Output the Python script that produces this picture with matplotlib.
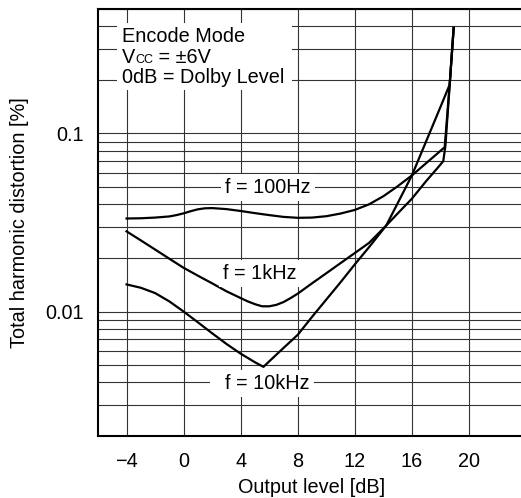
import matplotlib
matplotlib.use('Agg')
import matplotlib.pyplot as plt
from matplotlib import ticker
from matplotlib.transforms import offset_copy
from matplotlib.patches import Rectangle

plt.rcParams['font.family'] = ['Liberation Sans', 'DejaVu Sans']
plt.rcParams['font.size'] = 14.3

# output level [dB] / THD [%]
lvl_100 = [-4, -3, -2, -1, -0.5, 0, 0.5, 1, 1.5, 2, 3, 4, 5, 6, 7, 8, 9, 10, 11, 12, 13, 14, 15, 16,
           18.3, 18.65, 18.93]
thd_100 = [0.0333, 0.0334, 0.0337, 0.0342, 0.0348, 0.0356, 0.0366, 0.0375, 0.0380, 0.0381, 0.0376, 0.0367,
           0.0357, 0.0348, 0.0340, 0.0336, 0.0337, 0.0343, 0.0355, 0.0372, 0.0400, 0.0444, 0.0505, 0.0581,
           0.0837, 0.188, 0.392]

lvl_1k = [-4, -3, -2, -1, 0, 1, 2, 3, 4, 4.5, 5, 5.5, 6, 6.5, 7, 7.5, 8, 9, 10, 11, 12, 13, 14.2, 15, 16,
          17, 17.8, 18.2, 18.35, 18.65, 18.93]
thd_1k = [0.0282, 0.0251, 0.0223, 0.0198, 0.0176, 0.0159, 0.0144, 0.0130, 0.0119, 0.0114, 0.0110, 0.0107,
          0.0107, 0.0109, 0.0113, 0.0119, 0.0126, 0.0144, 0.0164, 0.0187, 0.0213, 0.0243, 0.0304, 0.0355,
          0.0430, 0.0540, 0.0640, 0.0699, 0.0850, 0.188, 0.392]

lvl_10k = [-4, -3, -2, -1, 0, 1, 2, 3, 4, 5, 5.6, 6, 7, 8, 9, 10, 11, 12, 13, 14.2, 15, 16, 17, 18, 18.65, 18.93]
thd_10k = [0.0142, 0.0136, 0.0127, 0.01140, 0.0100, 0.0087, 0.00755, 0.00658, 0.0058, 0.00519, 0.00489,
           0.00525, 0.00624, 0.0074, 0.00933, 0.01167, 0.0146, 0.0184, 0.0230, 0.0304, 0.0405, 0.0581,
           0.0903, 0.1406, 0.188, 0.392]

x_ticks = [-4, 0, 4, 8, 12, 16, 20]
y_ticks = [0.01, 0.1]
y_tick_labels = ['0.01', '0.1']

fig = plt.figure(figsize=(5.21, 4.98), dpi=100)
ax = fig.add_axes([98 / 521, 1 - 436 / 498, 428 / 521, 427 / 498])

ax.set_yscale('log')
ax.set_xlim(-6, 24)
ax.set_ylim(0.002, 0.5)

ax.xaxis.set_major_locator(ticker.FixedLocator(x_ticks))
ax.yaxis.set_major_locator(ticker.FixedLocator(y_ticks))
ax.yaxis.set_major_formatter(ticker.FixedFormatter(y_tick_labels))
ax.yaxis.set_minor_locator(ticker.LogLocator(base=10, subs=range(2, 10)))
ax.yaxis.set_minor_formatter(ticker.NullFormatter())
ax.tick_params(which='both', length=0)
ax.tick_params(axis='x', pad=11.5)
ax.tick_params(axis='y', pad=10.5)

ax.grid(True, axis='y', which='both', color='#333333', lw=0.8)
ax.grid(True, axis='x', which='major', color='#333333', lw=0.8)
for s in ax.spines.values():
    s.set_linewidth(1.5)

for lvl, thd in [(lvl_100, thd_100), (lvl_1k, thd_1k), (lvl_10k, thd_10k)]:
    ax.plot(lvl, thd, color='black', lw=1.6, solid_joinstyle='round', zorder=3)

box = dict(facecolor='white', edgecolor='none', pad=3)
ax.text(2.9, 0.0462, 'f = 100Hz', va='baseline', ha='left', bbox=box, zorder=4)
ax.text(2.76, 0.0152, 'f = 1kHz', va='baseline', ha='left', bbox=box, zorder=4)
ax.text(2.13, 0.00366, '  f = 10kHz', va='baseline', ha='left', bbox=box, zorder=4)

# condition block, top left
ax.add_patch(Rectangle((0.044, 0.810), 0.409, 0.157, transform=ax.transAxes,
                       facecolor='white', edgecolor='none', zorder=2))
tx = 0.056
ax.text(tx, 0.9234, 'Encode Mode', transform=ax.transAxes, va='baseline', zorder=4)
ax.text(tx, 0.8274, '0dB = Dolby Level', transform=ax.transAxes, va='baseline', zorder=4)
t_v = ax.text(tx, 0.8728, 'V', transform=ax.transAxes, va='baseline', zorder=4)
fig.canvas.draw()
r = fig.canvas.get_renderer()
w1 = t_v.get_window_extent(r).width
t_cc = ax.text(tx, 0.8728, 'CC', fontsize=9, va='baseline', zorder=4,
               transform=offset_copy(ax.transAxes, fig=fig, x=w1, y=0, units='dots'))
w2 = t_cc.get_window_extent(r).width
ax.text(tx, 0.8728, ' = ±6V', va='baseline', zorder=4,
        transform=offset_copy(ax.transAxes, fig=fig, x=w1 + w2, y=0, units='dots'))

ax.set_xlabel('Output level [dB]', labelpad=5)
ax.set_ylabel('Total harmonic distortion [%]', labelpad=11.5)

fig.savefig('out.png', dpi=100)
